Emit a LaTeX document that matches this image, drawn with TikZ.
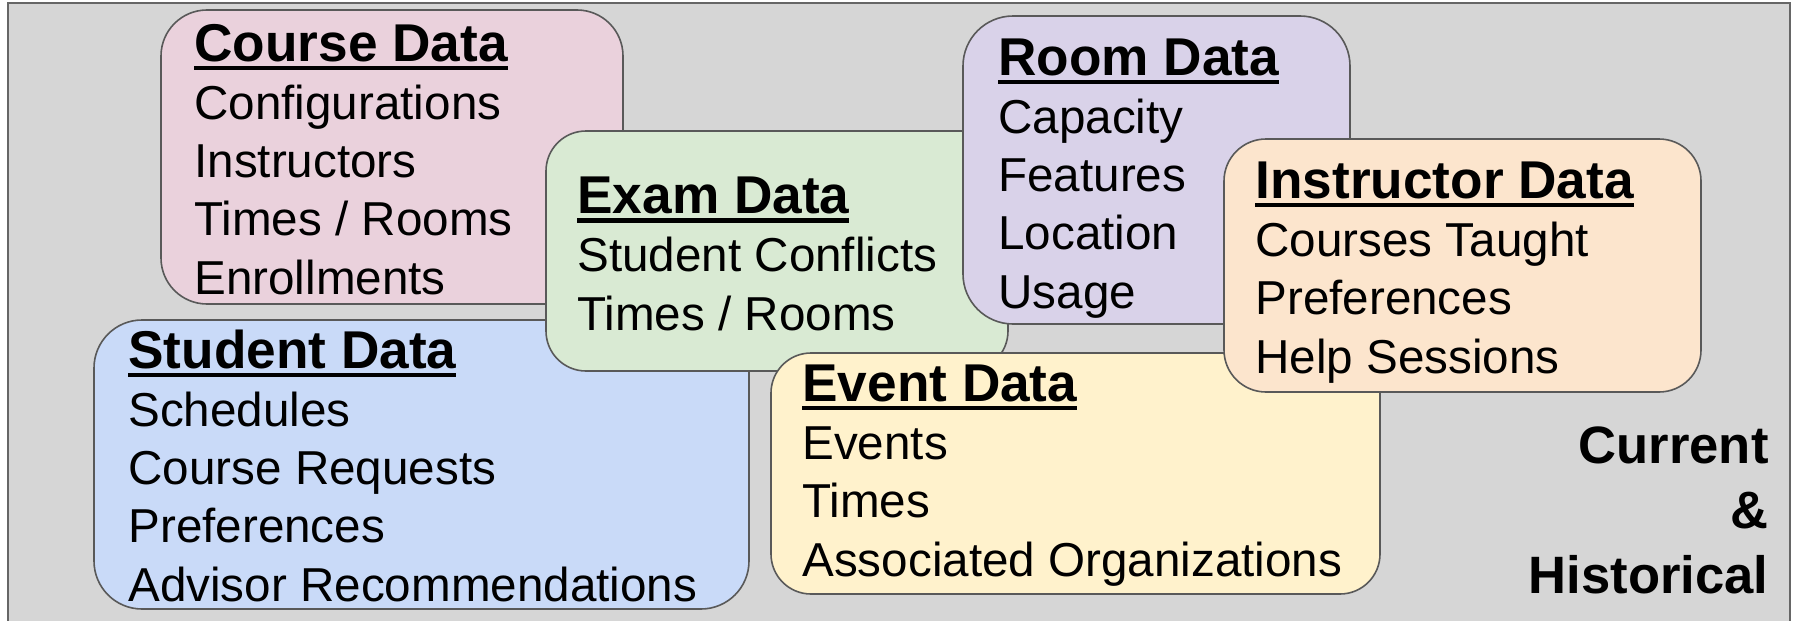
\documentclass[tikz,border=0pt]{standalone}
\usepackage{fontspec}
\setmainfont{Liberation Sans}

\definecolor{framegray}{RGB}{214,214,214}
\definecolor{frameline}{RGB}{102,102,102}
\definecolor{boxline}{RGB}{89,89,89}
\definecolor{coursefill}{HTML}{EAD1DC}
\definecolor{examfill}{HTML}{D9EAD3}
\definecolor{roomfill}{HTML}{D9D2E9}
\definecolor{instrfill}{HTML}{FCE5CD}
\definecolor{studentfill}{HTML}{C9DAF8}
\definecolor{eventfill}{HTML}{FFF2CC}

\newlength{\headwd}
\newcommand{\datahead}[1]{{\fontsize{26.6}{29.1}\selectfont\bfseries
	\settowidth{\headwd}{#1}#1\hspace{-\headwd}\rule[-4.5pt]{\headwd}{2.2pt}}}

\begin{document}
\begin{tikzpicture}
			[x=0.5pt,y=-0.5pt,
			databox/.style={draw=boxline,line width=0.8pt},
			every node/.style={inner sep=0pt,anchor=base west,align=left,
				font=\fontsize{23.8}{29.1}\selectfont}]
			\clip (0,0) rectangle (1794,621);
			\draw[fill=framegray,draw=frameline,line width=1pt] (8,3) rectangle (1790,640);
			
			% course (nodes sit on the baseline of their last line)
			\draw[databox,fill=coursefill,rounded corners=23pt] (161,10) rectangle (623,304);
			\node (course) at (194,294) {\datahead{Course Data}\\Configurations\\Instructors\\Times / Rooms\\Enrollments};
			
			% student
			\draw[databox,fill=studentfill,rounded corners=24pt] (94,320) rectangle (749,609);
			\node (student) at (128,601) {\datahead{Student Data}\\Schedules\\Course Requests\\Preferences\\Advisor Recommendations};
			
			% exam
			\draw[databox,fill=examfill,rounded corners=20pt] (546,131) rectangle (1008,371);
			\node (exam) at (577,330) {\datahead{Exam Data}\\Student Conflicts\\Times / Rooms};
			
			% room
			\draw[databox,fill=roomfill,rounded corners=25pt] (963,16) rectangle (1350,324);
			\node (room) at (998,308) {\datahead{Room Data}\\Capacity\\Features\\Location\\Usage};
			
			% event
			\draw[databox,fill=eventfill,rounded corners=20pt] (771,353) rectangle (1380,594);
			\node (event) at (802,576) {\datahead{Event Data}\\Events\\Times\\Associated Organizations};
			
			% instructor
			\draw[databox,fill=instrfill,rounded corners=21pt] (1224,139) rectangle (1701,392);
			\node (instructor) at (1255,373) {\datahead{Instructor Data}\\Courses Taught\\Preferences\\Help Sessions};
			
			\node[anchor=base east,align=right,font=\bfseries\fontsize{26.3}{32.5}\selectfont] (era) at (1769,593) {Current\\\&\\Historical};
			\end{tikzpicture}
\end{document}
